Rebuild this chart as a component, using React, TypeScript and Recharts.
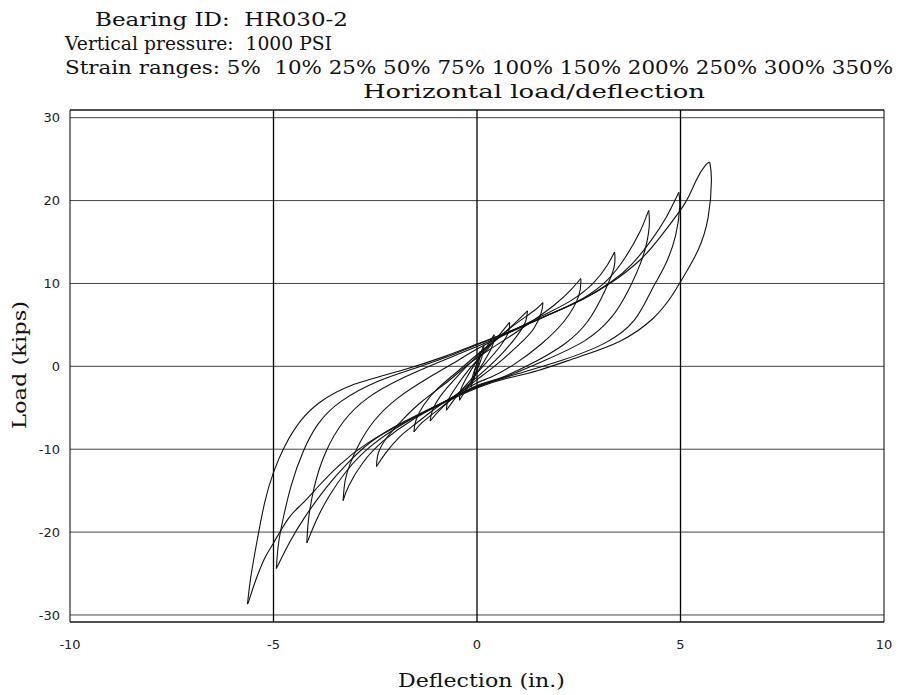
import { ScatterChart, Scatter, XAxis, YAxis, CartesianGrid, ReferenceLine } from 'recharts';

type Pt = [number, number];

// axis setup
const xTicks = [-10, -5, 0, 5, 10];
const yTicks = [-30, -20, -10, 0, 10, 20, 30];
const xDomain: [number, number] = [-10, 10];
const yDomain: [number, number] = [-30.85, 30.93];

const bearingId = 'HR030-2';
const verticalPressure = '1000 PSI';
const strainRanges = ['5%', ' 10%', '25%', '50%', '75%', '100%', '150%', '200%', '250%', '300%', '350%'];

// loop branches: "rise" goes from the negative tip to the positive tip,
// "fall" goes back from the positive tip to the negative tip
const rise350: Pt[] = [
  [-5.64, -28.7], [-5.56, -25.5], [-5.42, -21.5], [-5.22, -16.5], [-5.0, -12.8], [-4.72, -9.6],
  [-4.32, -6.5], [-3.85, -4.3], [-3.09, -2.3], [-1.86, -0.5], [-0.79, 1.2], [0, 2.7], [0.9, 4.4],
  [1.8, 6.3], [2.6, 8.1], [3.3, 10.1], [4.0, 12.8], [4.5, 15.6], [5.1, 19.6], [5.38, 22.4], [5.62, 24.3],
  [5.72, 24.6],
];
const fall350: Pt[] = [
  [5.72, 24.6], [5.76, 22.4], [5.68, 18.0], [5.43, 14.0], [5.06, 10.7], [4.8, 8.6], [4.33, 5.8],
  [3.5, 3.0], [2.48, 1.1], [1.5, -0.5], [0.7, -1.5], [0, -2.6], [-0.9, -4.6], [-1.8, -6.8],
  [-2.7, -9.3], [-3.4, -12.0], [-3.9, -14.5], [-4.3, -16.6], [-4.64, -18.4], [-5.01, -21.4],
  [-5.22, -23.2], [-5.45, -26.0], [-5.6, -28.2], [-5.64, -28.7],
];
const rise300: Pt[] = [
  [-4.93, -24.4], [-4.88, -21.5], [-4.76, -18.3], [-4.56, -14.3], [-4.28, -10.4], [-3.91, -7.0],
  [-3.33, -4.2], [-2.43, -1.8], [-1.45, -0.1], [-0.55, 1.5], [0, 2.6], [0.9, 4.4], [1.8, 6.3],
  [2.6, 8.1], [3.3, 10.2], [3.8, 12.3], [4.28, 15.2], [4.65, 18.0], [4.88, 20.2], [4.96, 21.0],
];
const fall300: Pt[] = [
  [4.96, 21.0], [4.98, 19.2], [4.88, 15.8], [4.62, 12.2], [4.28, 9.1], [3.87, 5.6], [3.14, 2.8],
  [2.07, 0.7], [1.0, -0.9], [0, -2.5], [-0.9, -4.5], [-1.8, -6.7], [-2.6, -9.1], [-3.2, -11.8],
  [-3.7, -14.6], [-4.23, -18.2], [-4.6, -21.2], [-4.85, -23.6], [-4.93, -24.4],
];
const rise250: Pt[] = [
  [-4.18, -21.3], [-4.14, -18.5], [-4.0, -14.6], [-3.72, -10.4], [-3.27, -6.6], [-2.68, -3.8],
  [-1.86, -1.5], [-0.88, 0.6], [0, 2.4], [0.9, 4.3], [1.8, 6.3], [2.6, 8.2], [3.2, 10.4],
  [3.65, 13.2], [4.0, 16.2], [4.17, 18.2], [4.22, 18.8],
];
const fall250: Pt[] = [
  [4.22, 18.8], [4.23, 16.8], [4.08, 13.3], [3.71, 9.1], [3.3, 5.9], [2.65, 3.1], [1.66, 0.7],
  [0.68, -1.3], [0, -2.4], [-0.9, -4.5], [-1.8, -6.9], [-2.6, -9.6], [-3.2, -12.6], [-3.65, -15.8],
  [-3.95, -18.6], [-4.12, -20.6], [-4.18, -21.3],
];
const rise200: Pt[] = [
  [-3.29, -16.2], [-3.24, -13.8], [-3.12, -11.8], [-2.92, -9.6], [-2.53, -6.6], [-1.94, -3.8],
  [-1.2, -1.4], [-0.47, 0.7], [0, 2.1], [0.8, 4.1], [1.6, 6.1], [2.3, 7.9], [2.85, 10.0],
  [3.2, 12.2], [3.38, 13.8],
];
const fall200: Pt[] = [
  [3.38, 13.8], [3.37, 12.0], [3.14, 9.1], [2.73, 5.5], [2.15, 2.7], [1.33, 0.3], [0.52, -1.5],
  [0, -2.3], [-0.8, -4.3], [-1.6, -6.5], [-2.3, -9.0], [-2.8, -11.6], [-3.15, -14.4], [-3.29, -16.2],
];
const rise150: Pt[] = [
  [-2.47, -12.1], [-2.42, -10.4], [-2.2, -8.5], [-1.86, -6.6], [-1.37, -4.3], [-0.71, -1.8],
  [-0.25, 0.1], [0.3, 2.0], [0.9, 3.9], [1.4, 5.6], [1.9, 7.4], [2.3, 9.2], [2.55, 10.6],
];
const fall150: Pt[] = [
  [2.55, 10.6], [2.5, 8.5], [2.15, 5.5], [1.58, 2.7], [0.93, 0.3], [0.35, -1.3], [0, -2.0],
  [-0.5, -3.4], [-1.0, -5.0], [-1.5, -6.9], [-1.9, -8.5], [-2.25, -10.5], [-2.47, -12.1],
];
const rise100: Pt[] = [
  [-1.55, -7.9], [-1.5, -6.5], [-1.3, -4.6], [-0.95, -2.6], [-0.45, -0.5], [0, 1.4], [0.5, 3.4],
  [1.0, 5.3], [1.4, 6.7], [1.62, 7.7],
];
const fall100: Pt[] = [
  [1.62, 7.7], [1.58, 6.5], [1.4, 4.6], [1.05, 2.7], [0.5, 0.3], [0, -1.6], [-0.5, -3.5],
  [-1.0, -5.4], [-1.35, -6.8], [-1.55, -7.9],
];
const rise75: Pt[] = [
  [-1.15, -6.6], [-1.1, -5.4], [-0.9, -3.6], [-0.5, -1.3], [0, 1.2], [0.5, 3.3], [0.95, 5.3], [1.24, 6.7],
];
const fall75: Pt[] = [
  [1.24, 6.7], [1.2, 5.5], [1.0, 3.8], [0.55, 1.2], [0, -1.3], [-0.5, -3.4], [-0.9, -5.2], [-1.15, -6.6],
];
const rise50: Pt[] = [
  [-0.75, -5.3], [-0.71, -4.1], [-0.5, -2.4], [-0.2, -0.4], [0.15, 1.5], [0.45, 3.2], [0.8, 5.3],
];
const fall50: Pt[] = [
  [0.8, 5.3], [0.77, 4.1], [0.55, 2.3], [0.2, 0.3], [-0.15, -1.6], [-0.45, -3.3], [-0.75, -5.3],
];
const rise25: Pt[] = [[-0.43, -4.1], [-0.41, -3.0], [-0.27, -1.5], [-0.05, 0.3], [0.18, 1.9], [0.42, 3.8]];
const fall25: Pt[] = [[0.42, 3.8], [0.4, 2.8], [0.26, 1.3], [0.05, -0.4], [-0.18, -2.1], [-0.43, -4.1]];
const rise10: Pt[] = [[-0.15, -2.5], [-0.13, -1.6], [-0.05, -0.3], [0.06, 1.2], [0.17, 2.6]];
const fall10: Pt[] = [[0.17, 2.6], [0.15, 1.7], [0.07, 0.4], [-0.05, -1.1], [-0.15, -2.5]];
const rise5: Pt[] = [[-0.08, -1.6], [-0.06, -0.7], [0, 0.3], [0.05, 1.1], [0.08, 1.8]];
const fall5: Pt[] = [[0.08, 1.8], [0.06, 0.9], [0, -0.3], [-0.05, -1.0], [-0.08, -1.6]];

const branches: Pt[][] = [
  rise350, fall350, rise300, fall300, rise250, fall250, rise200, fall200, rise150, fall150,
  rise100, fall100, rise75, fall75, rise50, fall50, rise25, fall25, rise10, fall10, rise5, fall5,
];

const serif = '"DejaVu Serif", "Liberation Serif", serif';
const tickStyle = { fill: '#222', fontSize: 13, fontFamily: '"DejaVu Sans", sans-serif' };

const NoDot = () => <g />;

export default function App() {
  return (
    <div style={{ position: 'absolute', left: 0, top: 0, width: 906, height: 695, background: '#fff' }}>
      <ScatterChart width={906} height={695} margin={{ top: 110, right: 22, bottom: 43, left: 10 }}>
        <CartesianGrid vertical={false} stroke="#444" strokeWidth={1} />
        <XAxis
          type="number"
          dataKey="x"
          domain={xDomain}
          ticks={xTicks}
          allowDataOverflow
          height={30}
          tickLine={false}
          tickSize={0}
          tickMargin={18}
          axisLine={{ stroke: '#000' }}
          tick={tickStyle}
        />
        <YAxis
          type="number"
          dataKey="y"
          domain={yDomain}
          ticks={yTicks}
          allowDataOverflow
          width={60}
          tickLine={false}
          tickSize={0}
          tickMargin={10}
          axisLine={{ stroke: '#000' }}
          tick={tickStyle}
        />
        <ReferenceLine x={-5} stroke="#000" strokeWidth={1.3} />
        <ReferenceLine x={0} stroke="#000" strokeWidth={1.3} />
        <ReferenceLine x={5} stroke="#000" strokeWidth={1.3} />
        <ReferenceLine x={10} stroke="#000" strokeWidth={1} />
        <ReferenceLine y={yDomain[1]} stroke="#000" strokeWidth={1} />
        {branches.map((b, i) => (
          <Scatter
            key={i}
            data={b.map(([x, y]) => ({ x, y }))}
            line={{ stroke: '#111', strokeWidth: 1.1 }}
            lineType="joint"
            lineJointType="natural"
            shape={NoDot}
            isAnimationActive={false}
          />
        ))}
      </ScatterChart>
      <svg
        width={906}
        height={695}
        style={{ position: 'absolute', left: 0, top: 0, pointerEvents: 'none' }}
      >
        <g fontFamily={serif} fontSize={19} fill="#111">
          <text x={95} y={26} xmlSpace="preserve" textLength={253} lengthAdjust="spacingAndGlyphs">
            {`Bearing ID:  ${bearingId}`}
          </text>
          <text x={65} y={50} xmlSpace="preserve" textLength={267} lengthAdjust="spacingAndGlyphs">
            {`Vertical pressure:  ${verticalPressure}`}
          </text>
          <text x={65} y={74} xmlSpace="preserve" textLength={828} lengthAdjust="spacingAndGlyphs">
            {`Strain ranges: ${strainRanges.join(' ')}`}
          </text>
          <text x={363} y={98} textLength={342} lengthAdjust="spacingAndGlyphs">
            Horizontal load/deflection
          </text>
          <text x={398} y={687} textLength={167} lengthAdjust="spacingAndGlyphs">
            Deflection (in.)
          </text>
          <text
            transform="translate(26,365) rotate(-90)"
            textAnchor="middle"
            textLength={128}
            lengthAdjust="spacingAndGlyphs"
          >
            Load (kips)
          </text>
        </g>
      </svg>
    </div>
  );
}
